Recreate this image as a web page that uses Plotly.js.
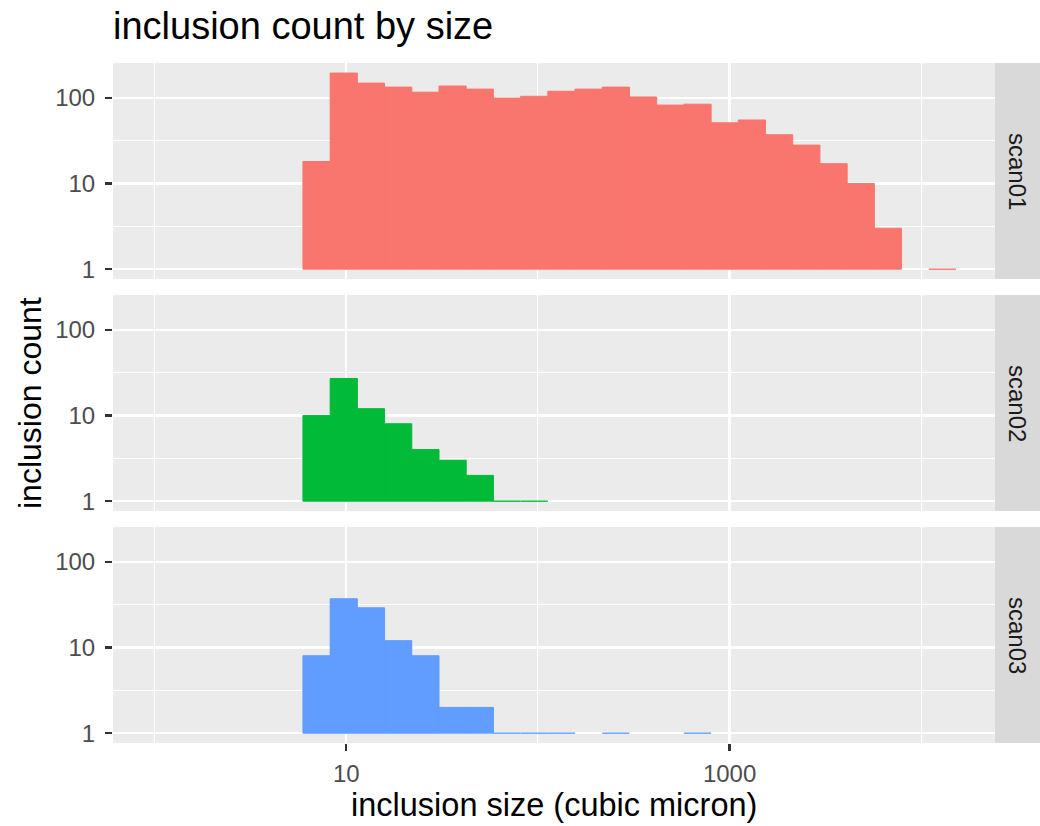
<!DOCTYPE html>
<html>
<head>
<meta charset="utf-8">
<script src="https://cdn.plot.ly/plotly-3.0.1.min.js"></script>
<style>html,body{margin:0;padding:0;background:#ffffff;}</style>
</head>
<body>
<div id="chart" style="width:1040px;height:826px;"></div>
<script>
// histogram bin edges (inclusion size, cubic micron; equal width on log scale)
const binEdges = [5.946, 8.245, 11.43, 15.85, 21.98, 30.48, 42.26, 58.61, 81.27, 112.7,
                  156.2, 216.6, 300.4, 416.4, 577.5, 800.8, 1110, 1540, 2135, 2960,
                  4105, 5691, 7892, 10940, 15170];
const scanNames = ["scan01", "scan02", "scan03"];
const scan01Counts = [18, 194, 148, 133, 116, 137, 126, 99, 104, 119, 126, 133, 102, 82, 84, 51, 55, 37, 28, 17, 10, 3, 0, 1];
const scan02Counts = [10, 27, 12, 8, 4, 3, 2, 1, 1, 0, 0, 0, 0, 0, 0, 0, 0, 0, 0, 0, 0, 0, 0, 0];
const scan03Counts = [8, 37, 29, 12, 8, 2, 2, 1, 1, 1, 0, 1, 0, 0, 1, 0, 0, 0, 0, 0, 0, 0, 0, 0];
const scanColors = ["#F8766D", "#00BA38", "#619CFF"];
const xTickVals = [10, 1000];
const xTickText = ["10", "1000"];
const xMinorVals = [1, 100, 10000];
const yTickVals = [1, 10, 100];
const yTickText = ["1", "10", "100"];
const yMinorVals = [3.162, 31.62];

const allCounts = [scan01Counts, scan02Counts, scan03Counts];
const FONT = "Liberation Sans, Arial, Helvetica, sans-serif";

// layout geometry (pixels)
const W = 1040, H = 826;
const mL = 113, mR = 45, mT = 63, mB = 83;
const plotW = W - mL - mR, plotH = H - mT - mB;
const panelH = 216, gap = 16;
const domains = [0, 1, 2].map(i => {
  const top = mT + i * (panelH + gap);
  const bot = top + panelH;
  return [(H - mB - bot) / plotH, (H - mB - top) / plotH];
});

const traces = [];
allCounts.forEach((counts, i) => {
  const yref = i === 0 ? "y" : "y" + (i + 1);
  const bx = [], bw = [], by = [];
  const lx = [], ly = [];
  counts.forEach((c, k) => {
    const lo = binEdges[k], hi = binEdges[k + 1];
    if (c > 1) {
      bx.push((lo + hi) / 2);
      bw.push(hi - lo);
      by.push(c - 1);
    } else if (c === 1) {
      lx.push(lo, hi, null);
      ly.push(1, 1, null);
    }
  });
  traces.push({
    type: "bar", x: bx, y: by, width: bw, base: 1,
    xaxis: "x", yaxis: yref,
    marker: {color: scanColors[i], line: {width: 1, color: scanColors[i]}},
    showlegend: false, hoverinfo: "skip"
  });
  if (lx.length) {
    traces.push({
      type: "scatter", mode: "lines", x: lx, y: ly,
      xaxis: "x", yaxis: yref,
      line: {color: scanColors[i], width: 1.4},
      showlegend: false, hoverinfo: "skip"
    });
  }
});

const yAxisBase = {
  type: "log",
  range: [-0.1145, 2.405],
  anchor: "x",
  tickmode: "array",
  tickvals: yTickVals,
  ticktext: yTickText,
  ticks: "outside",
  ticklen: 7,
  tickwidth: 2.2,
  tickcolor: "#333333",
  tickfont: {family: FONT, size: 24, color: "#4D4D4D"},
  ticklabelstandoff: 5,
  showgrid: true,
  gridcolor: "#FFFFFF",
  gridwidth: 2.2,
  minor: {tickmode: "array", tickvals: yMinorVals, showgrid: true, gridcolor: "#FFFFFF", gridwidth: 1.1, ticks: ""},
  showline: false,
  zeroline: false,
  fixedrange: true
};

const layout = {
  width: W, height: H,
  margin: {l: mL, r: mR, t: mT, b: mB, pad: 0},
  paper_bgcolor: "#FFFFFF",
  plot_bgcolor: "#EBEBEB",
  barmode: "overlay",
  font: {family: FONT, color: "#000000"},
  title: {
    text: "inclusion count by size",
    x: mL / W, xanchor: "left", xref: "container",
    y: 1 - 26 / H, yanchor: "middle", yref: "container",
    font: {family: FONT, size: 38, color: "#000000"}
  },
  xaxis: {
    type: "log",
    range: [-0.2167, 4.3846],
    domain: [0, 1],
    anchor: "y3",
    tickmode: "array",
    tickvals: xTickVals,
    ticktext: xTickText,
    ticks: "outside",
    ticklen: 7,
    tickwidth: 2.2,
    tickcolor: "#333333",
    tickfont: {family: FONT, size: 24, color: "#4D4D4D"},
    ticklabelstandoff: 2,
    showgrid: true,
    gridcolor: "#FFFFFF",
    gridwidth: 2.2,
    minor: {tickmode: "array", tickvals: xMinorVals, showgrid: true, gridcolor: "#FFFFFF", gridwidth: 1.1, ticks: ""},
    showline: false,
    zeroline: false,
    fixedrange: true
  },
  yaxis: Object.assign({}, yAxisBase, {domain: domains[0]}),
  yaxis2: Object.assign({}, yAxisBase, {domain: domains[1]}),
  yaxis3: Object.assign({}, yAxisBase, {domain: domains[2]}),
  shapes: domains.map(d => ({
    type: "rect", xref: "paper", yref: "paper",
    x0: 1, x1: (W - mL) / plotW, y0: d[0], y1: d[1],
    fillcolor: "#D9D9D9", line: {width: 0}, layer: "below"
  })),
  annotations: domains.map((d, i) => ({
    text: scanNames[i], xref: "paper", yref: "paper",
    x: 1 + 23 / plotW, y: (d[0] + d[1]) / 2,
    xanchor: "center", yanchor: "middle",
    textangle: 90, showarrow: false,
    font: {family: FONT, size: 24, color: "#1A1A1A"}
  })).concat([
    {
      text: "inclusion count", xref: "paper", yref: "paper",
      x: (30 - mL) / plotW, y: 0.5, xanchor: "center", yanchor: "middle",
      textangle: -90, showarrow: false,
      font: {family: FONT, size: 32, color: "#000000"}
    },
    {
      text: "inclusion size (cubic micron)", xref: "paper", yref: "paper",
      x: 0.5, y: -(805 - (H - mB)) / plotH, xanchor: "center", yanchor: "middle",
      showarrow: false,
      font: {family: FONT, size: 32.5, color: "#000000"}
    }
  ])
};

Plotly.newPlot("chart", traces, layout, {displayModeBar: false, staticPlot: true});
</script>
</body>
</html>
